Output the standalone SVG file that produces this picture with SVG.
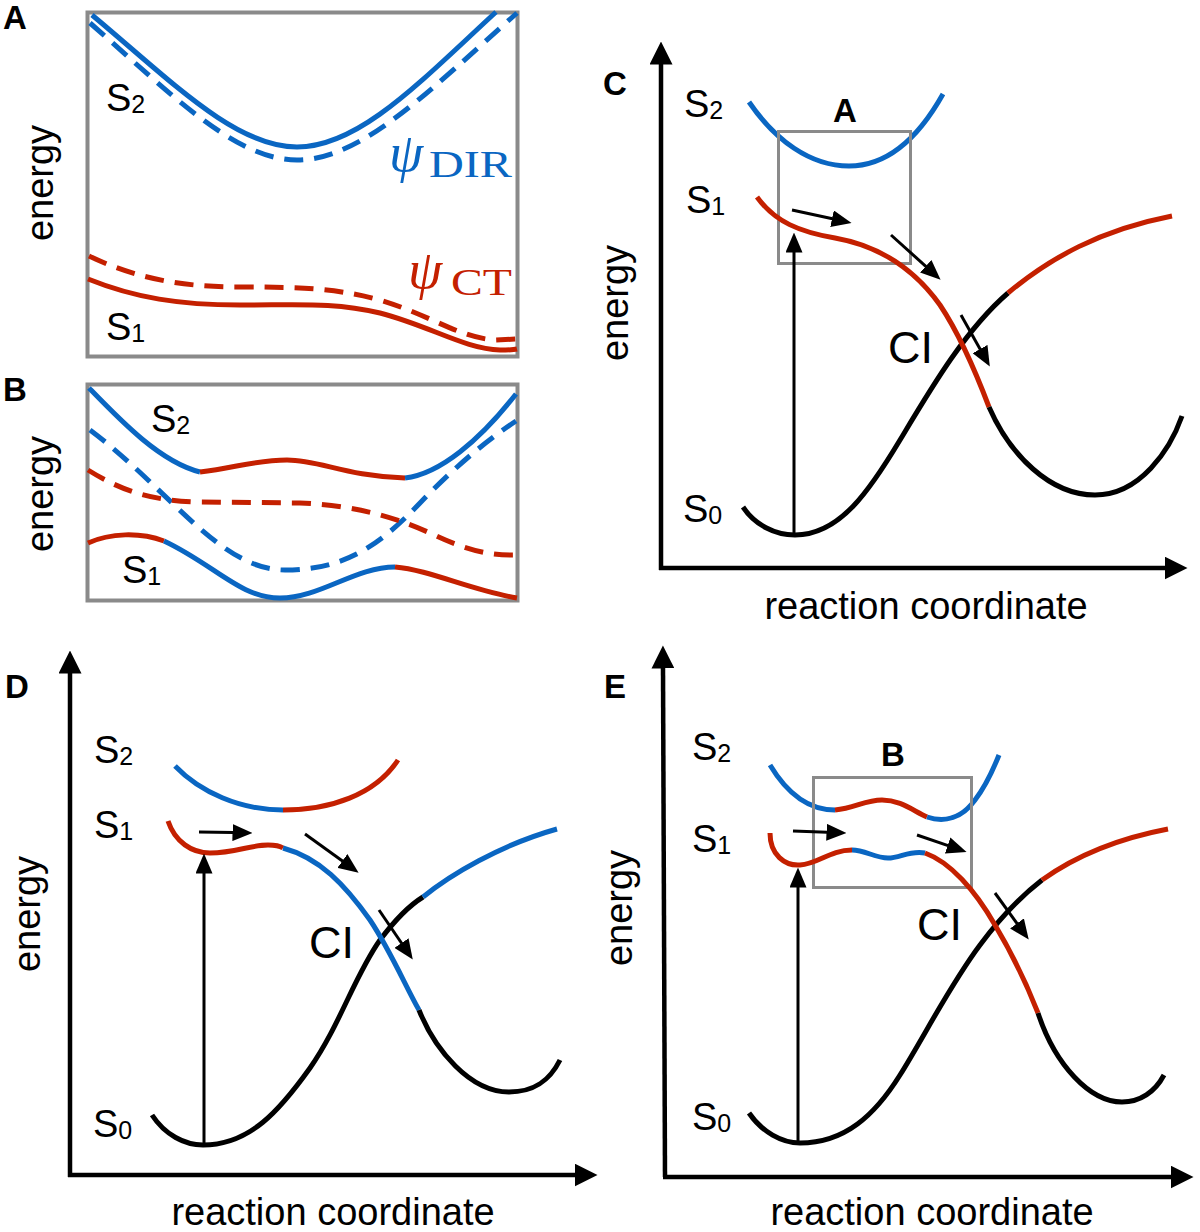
<svg xmlns="http://www.w3.org/2000/svg" width="1200" height="1232" viewBox="0 0 1200 1232">
<defs>
<style>
.c{fill:none;stroke-width:5;stroke-linecap:butt}
.b{stroke:#0a66c2}
.r{stroke:#c42000}
.k{stroke:#000}
.d{stroke-dasharray:19 11}
.box{fill:none;stroke:#8a8a8a;stroke-width:4}
.box2{fill:none;stroke:#8a8a8a;stroke-width:3}
.ax{stroke:#000;stroke-width:4.5;fill:none;marker-end:url(#ah)}
.ar{stroke:#000;stroke-width:3;fill:none;marker-end:url(#sh)}
.t{font-family:'Liberation Sans',Arial,sans-serif;font-size:38px;fill:#000}
.s{font-size:25px}
.ci{font-family:'Liberation Sans',Arial,sans-serif;font-size:45px;fill:#000}
.p{font-family:'Liberation Sans',Arial,sans-serif;font-weight:bold;font-size:33px;fill:#000}
.psi{font-family:'Liberation Serif','DejaVu Serif',serif;font-style:italic;font-size:55px}
.sub{font-family:'Liberation Serif','DejaVu Serif',serif;font-size:38px}
</style>
<marker id="ah" viewBox="0 -11.5 23 23" refX="0.5" refY="0" markerWidth="23" markerHeight="23" markerUnits="userSpaceOnUse" orient="auto"><path d="M0,-11.5 L23,0 L0,11.5 z" fill="#000"/></marker>
<marker id="sh" viewBox="0 -8.5 20 17" refX="0.5" refY="0" markerWidth="20" markerHeight="17" markerUnits="userSpaceOnUse" orient="auto"><path d="M0,-8.5 L20,0 L0,8.5 z" fill="#000"/></marker>
</defs>
<rect width="1200" height="1232" fill="#fff"/>

<g id="panel-A">
<rect class="box" x="87.5" y="12.5" width="430" height="344"/>
<path class="c b" d="M92,15 C170,80 235,147 297,147 C359,147 420,82 496,12"/>
<path class="c b d" d="M90,23 C170,93 235,160 297,160 C362,160 430,90 517,13"/>
<path class="c r" d="M88,279 C135,298 180,305 240,305 C300,305 335,302 380,313 C430,326 465,349 500,350 C508,350 513,350 517,349"/>
<path class="c r d" d="M89,256 C135,278 180,287 240,287 C300,287 335,288 380,300 C430,315 460,338 495,340 L517,339"/>
<text class="p" x="3" y="29">A</text>
<text class="t" transform="translate(53,183) rotate(-90)" text-anchor="middle">energy</text>
<text class="t" x="106" y="111">S<tspan class="s" dy="2">2</tspan></text>
<text class="t" x="106" y="340">S<tspan class="s" dy="2">1</tspan></text>
<text x="389" y="171" fill="#0a66c2"><tspan class="psi">ψ</tspan><tspan class="sub" x="429" y="177" textLength="83" lengthAdjust="spacingAndGlyphs">DIR</tspan></text>
<text x="408" y="288" fill="#c42000"><tspan class="psi">ψ</tspan><tspan class="sub" x="451" y="295" textLength="61" lengthAdjust="spacingAndGlyphs">CT</tspan></text>
</g>

<g id="panel-B">
<rect class="box" x="87.5" y="384.5" width="430" height="216"/>
<path class="c b d" d="M90,430 C170,490 220,570 285,570 C345,570 380,545 420,503 C450,472 480,445 516,421"/>
<path class="c r d" d="M88,470 C120,490 150,501 200,502 L300,503 C350,505 390,515 430,533 C465,550 490,556 517,555"/>
<path class="c b" d="M89,388 C120,420 160,462 200,472"/>
<path class="c r" d="M200,472 C235,468 255,460 287,460 C320,460 345,476 405,478"/>
<path class="c b" d="M405,478 C440,474 480,440 516,394"/>
<path class="c r" d="M88,543 C110,533 140,532 164,541"/>
<path class="c b" d="M164,541 C215,565 240,598 280,598 C320,598 355,567 395,567"/>
<path class="c r" d="M395,567 C430,570 470,590 517,598"/>
<text class="p" x="3" y="401">B</text>
<text class="t" transform="translate(53,494) rotate(-90)" text-anchor="middle">energy</text>
<text class="t" x="151" y="432">S<tspan class="s" dy="2">2</tspan></text>
<text class="t" x="122" y="583">S<tspan class="s" dy="2">1</tspan></text>
</g>

<g id="panel-C">
<path class="c b" d="M749,102 C775,140 810,166 849,166 C890,166 920,135 943,94"/>
<rect class="box2" x="778.5" y="131.5" width="132" height="132"/>
<path class="c k" d="M743,507 C755,525 775,535 795,535 C840,535 870,490 900,440 C930,390 965,330 1008,293"/>
<path class="c r" d="M757,197 C775,222 800,232 835,238 C880,246 915,270 940,305 C960,335 975,370 989,407"/>
<path class="c k" d="M989,407 C1010,455 1050,495 1095,495 C1140,495 1170,450 1182,416"/>
<path class="c r" d="M1008,293 C1050,258 1100,230 1172,216"/>
<text class="p" x="603" y="95">C</text>
<text class="p" x="845" y="122" text-anchor="middle">A</text>
<text class="t" transform="translate(628,303) rotate(-90)" text-anchor="middle">energy</text>
<text class="t" x="684" y="117">S<tspan class="s" dy="2">2</tspan></text>
<text class="t" x="686" y="213">S<tspan class="s" dy="2">1</tspan></text>
<text class="t" x="683" y="522">S<tspan class="s" dy="2">0</tspan></text>
<text class="ci" x="888" y="363">CI</text>
<text class="t" x="926" y="619" text-anchor="middle">reaction coordinate</text>
</g>

<g id="panel-D">
<path class="c b" d="M175,766 C200,792 240,810 283,810"/>
<path class="c r" d="M283,810 C330,810 375,795 398,760"/>
<path class="c k" d="M152,1115 C165,1135 185,1145 203,1145 C250,1145 280,1110 310,1068 C340,1025 355,975 380,940 C395,920 410,905 423,897"/>
<path class="c r" d="M168,821 C175,842 192,853 210,853 C235,853 250,845 268,845 C275,845 280,846 283,848"/>
<path class="c b" d="M283,848 C320,858 345,885 370,920 C390,950 405,985 419,1010"/>
<path class="c k" d="M419,1010 C435,1050 470,1092 509,1092 C535,1092 550,1080 560,1060"/>
<path class="c b" d="M423,897 C450,875 500,845 557,829"/>
<text class="p" x="5" y="698">D</text>
<text class="t" transform="translate(40,914) rotate(-90)" text-anchor="middle">energy</text>
<text class="t" x="94" y="763">S<tspan class="s" dy="2">2</tspan></text>
<text class="t" x="94" y="838">S<tspan class="s" dy="2">1</tspan></text>
<text class="t" x="93" y="1137">S<tspan class="s" dy="2">0</tspan></text>
<text class="ci" x="309" y="958">CI</text>
<text class="t" x="333" y="1225" text-anchor="middle">reaction coordinate</text>
</g>

<g id="panel-E">
<path class="c b" d="M770,765 C785,790 805,810 835,810"/>
<path class="c r" d="M835,810 C855,808 865,800 882,800 C900,800 912,810 927,817"/>
<path class="c b" d="M927,817 C945,823 962,818 975,800 C985,787 993,770 999,755"/>
<rect class="box2" x="813.5" y="777.5" width="158" height="110"/>
<path class="c k" d="M749,1113 C762,1132 782,1143 800,1143 C845,1143 875,1115 900,1075 C925,1035 950,985 980,945 C1000,918 1020,897 1042,880"/>
<path class="c r" d="M770,833 C770,855 785,866 800,865 C818,864 830,850 852,850"/>
<path class="c b" d="M852,850 C865,850 875,858 888,858 C900,858 910,850 925,853"/>
<path class="c r" d="M925,853 C950,862 975,890 995,925 C1010,950 1025,980 1038,1013"/>
<path class="c k" d="M1038,1013 C1055,1065 1090,1102 1122,1102 C1140,1102 1155,1092 1164,1075"/>
<path class="c r" d="M1042,880 C1070,860 1110,840 1168,829"/>
<text class="p" x="604" y="698">E</text>
<text class="p" x="893" y="766" text-anchor="middle">B</text>
<text class="t" transform="translate(632,908) rotate(-90)" text-anchor="middle">energy</text>
<text class="t" x="692" y="760">S<tspan class="s" dy="2">2</tspan></text>
<text class="t" x="692" y="852">S<tspan class="s" dy="2">1</tspan></text>
<text class="t" x="692" y="1130">S<tspan class="s" dy="2">0</tspan></text>
<text class="ci" x="917" y="940">CI</text>
<text class="t" x="932" y="1225" text-anchor="middle">reaction coordinate</text>
</g>

<g id="connectors">
<line class="ax" x1="661" y1="570" x2="661" y2="64"/>
<line class="ax" x1="659" y1="568" x2="1165" y2="568"/>
<line class="ar" x1="794" y1="535" x2="794" y2="252"/>
<line class="ar" x1="792" y1="210" x2="832.5" y2="218.8"/>
<line class="ar" x1="891" y1="235" x2="926.1" y2="266.6"/>
<line class="ar" x1="961" y1="315" x2="980.3" y2="349.5"/>

<line class="ax" x1="70" y1="1177" x2="70" y2="673"/>
<line class="ax" x1="68" y1="1175" x2="575" y2="1175"/>
<line class="ar" x1="204" y1="1145" x2="204" y2="873"/>
<line class="ar" x1="199" y1="832" x2="233" y2="832.6"/>
<line class="ar" x1="305" y1="834" x2="342.8" y2="861.3"/>
<line class="ar" x1="379" y1="910" x2="401.8" y2="943.5"/>

<line class="ax" x1="665" y1="1177" x2="663" y2="668"/>
<line class="ax" x1="663" y1="1177" x2="1171" y2="1177"/>
<line class="ar" x1="798" y1="1143" x2="798" y2="887"/>
<line class="ar" x1="793" y1="831" x2="827" y2="832.3"/>
<line class="ar" x1="917" y1="835" x2="948.1" y2="845.6"/>
<line class="ar" x1="995" y1="893" x2="1017.3" y2="923.8"/>
</g>
</svg>
